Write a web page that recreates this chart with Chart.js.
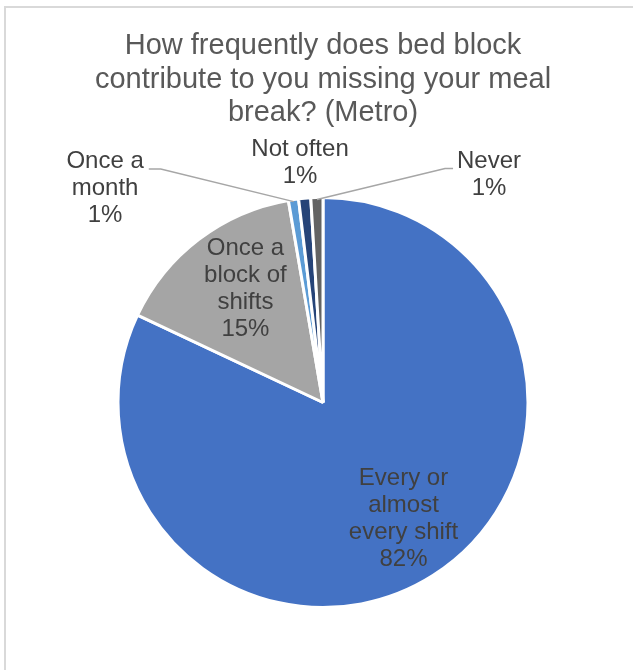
<!DOCTYPE html>
<html>
<head>
<meta charset="utf-8">
<script src="https://cdn.jsdelivr.net/npm/chart.js"></script>
<style>
  body { margin: 0; background: #fff; overflow: hidden; }
  #wrap { position: relative; width: 633px; height: 670px; }
  #frame { position: absolute; left: 4px; top: 6px; width: 700px; height: 700px; border: 2px solid #d9d9d9; box-sizing: border-box; }
  #myChart { position: absolute; left: 0; top: 0; }
</style>
</head>
<body>
<div id="wrap">
  <div id="frame"></div>
  <canvas id="myChart" width="633" height="670"></canvas>
</div>
<script>
const titleLines = ['How frequently does bed block', 'contribute to you missing your meal', 'break? (Metro)']
const categories = ['Every or almost every shift', 'Once a block of shifts', 'Once a month', 'Not often', 'Never']
const values = [82, 15.3, 0.8, 0.95, 0.95]
const labelLines = [['Every or', 'almost', 'every shift'], ['Once a', 'block of', 'shifts'], ['Once a', 'month'], ['Not often'], ['Never']]
const colors = ['#4472C4', '#A5A5A5', '#5B9BD5', '#264478', '#636363']

// where each label goes: inside = along mid angle (+ small angle nudge), outside = offset from centre in radius units
const labelPos = [
    { inside: 0.69, nudge: -0.04 },
    { inside: 0.67, nudge: 0.05 },
    { out: [-1.063, -1.044], leader: 'right' },
    { out: [-0.112, -1.171] },
    { out: [0.81, -1.112], leader: 'left' }
]

const total = values.reduce((a, b) => a + b, 0)

const labelPlugin = {
    id: 'pieLabels',
    afterDatasetsDraw(chart) {
        const ctx = chart.ctx
        ctx.save()
        // title
        ctx.fillStyle = '#595959'
        ctx.font = '29px "Liberation Sans", Arial, sans-serif'
        ctx.textAlign = 'center'
        ctx.textBaseline = 'middle'
        titleLines.forEach((t, i) => ctx.fillText(t, 323, 46 + i * 33.5))

        const meta = chart.getDatasetMeta(0)
        ctx.font = '24px "Liberation Sans", Arial, sans-serif'
        const lh = 27
        meta.data.forEach((arc, i) => {
            const p = arc.getProps(['x', 'y', 'startAngle', 'endAngle', 'outerRadius'])
            const mid = (p.startAngle + p.endAngle) / 2
            const r = p.outerRadius
            const lines = labelLines[i].concat([Math.round(values[i] / total * 100) + '%'])
            const pos = labelPos[i]
            let cx, cy
            if (pos.inside) {
                const a = mid + pos.nudge
                cx = p.x + Math.cos(a) * r * pos.inside
                cy = p.y + Math.sin(a) * r * pos.inside
            } else {
                cx = p.x + pos.out[0] * r
                cy = p.y + pos.out[1] * r
            }
            const top = cy - (lines.length - 1) * lh / 2
            if (pos.leader) {
                const ex = p.x + Math.cos(mid) * (r - 2)
                const ey = p.y + Math.sin(mid) * (r - 2)
                const w = Math.max(...lines.map(l => ctx.measureText(l).width))
                const ly = top + lh * 0.28
                let sx, kx
                if (pos.leader === 'right') { sx = cx + w / 2 + 5; kx = sx + 12 }
                else { sx = cx - ctx.measureText(lines[0]).width / 2 - 4; kx = sx - 8 }
                ctx.strokeStyle = '#a6a6a6'
                ctx.lineWidth = 1.5
                ctx.beginPath()
                ctx.moveTo(sx, ly)
                ctx.lineTo(kx, ly)
                ctx.lineTo(ex, ey)
                ctx.stroke()
            }
            ctx.fillStyle = '#404040'
            lines.forEach((l, j) => ctx.fillText(l, cx, top + j * lh))
        })
        ctx.restore()
    }
}

const ctx = document.querySelector('#myChart').getContext('2d')
const myChart = new Chart(ctx, {
    type: 'pie',
    data: {
        labels: categories,
        datasets: [{
            data: values,
            backgroundColor: colors,
            borderColor: '#ffffff',
            borderWidth: 3
        }]
    },
    options: {
        responsive: false,
        animation: false,
        layout: { padding: { left: 13, right: 0, top: 196, bottom: 61 } },
        plugins: {
            legend: { display: false },
            tooltip: { enabled: false },
            title: { display: false }
        }
    },
    plugins: [labelPlugin]
})
</script>
</body>
</html>
